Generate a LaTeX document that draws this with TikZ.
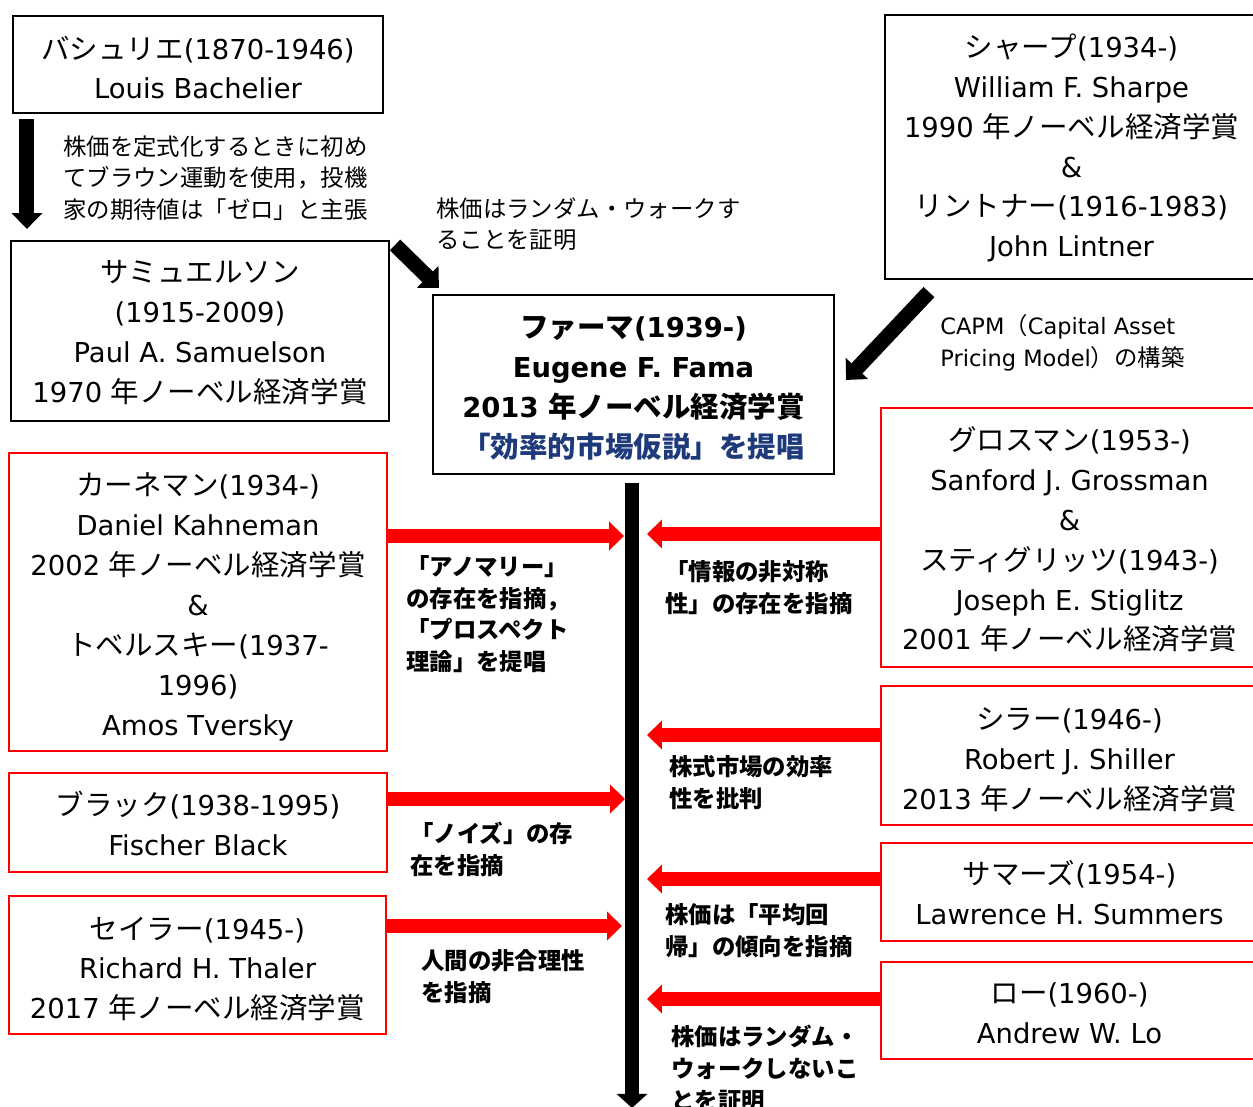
\documentclass[tikz,border=0pt]{standalone}
\usepackage{fontspec}
\setmainfont{DejaVu Sans}
\newfontfamily\jp{Noto Sans CJK JP}[Scale=1.04]
\usetikzlibrary{arrows.meta}
\definecolor{famablue}{HTML}{1F3A7A}
\newcommand\boxfont{\fontsize{15.6}{22.7}\selectfont}
\newcommand\labfont{\fontsize{12.8}{18.1}\selectfont}
\begin{document}
\begin{tikzpicture}[x=0.02cm,y=-0.02cm,
 bbox/.style={draw=black,line width=1.2pt,inner sep=0pt},
 rbox/.style={draw=red,line width=1pt,inner sep=0pt},
 btext/.style={inner sep=0pt,align=center,font=\boxfont},
 lab/.style={anchor=north west,inner sep=0pt,align=left,font=\labfont},
 blab/.style={anchor=north west,inner sep=0pt,align=left,font=\labfont\bfseries},
 blk/.style={line width=8.5pt,-{Triangle[width=17pt,length=9pt]}},
 redR/.style={red,line width=8.5pt,-{Triangle[width=16pt,length=8.5pt]}},
]
\useasboundingbox (0,0) rectangle (1253,1106);
\clip (0,0) rectangle (1253,1106);

% boxes
\node[bbox,minimum width=370*0.02cm,minimum height=97*0.02cm] (bach) at (198,64.5) {};
\node[btext] (bach-t) at ([shift={(0,3)}]bach.center)
 {{\jp バシュリエ}(1870-1946)\\Louis Bachelier};
\node[bbox,minimum width=378*0.02cm,minimum height=180*0.02cm] (sam) at (200,331) {};
\node[btext] (sam-t) at ([shift={(0,2)}]sam.center)
 {{\jp サミュエルソン}\\(1915-2009)\\Paul A. Samuelson\\1970 {\jp 年ノーベル経済学賞}};
\node[bbox,minimum width=401*0.02cm,minimum height=179*0.02cm] (fama) at (633.5,384.5) {};
\node[btext,font=\boxfont\bfseries] (fama-t) at ([shift={(0,4)}]fama.center)
 {{\jp ファーマ}(1939-)\\Eugene F. Fama\\2013 {\jp 年ノーベル経済学賞}\\{\color{famablue}\jp 「効率的市場仮説」を提唱}};
\node[bbox,minimum width=373*0.02cm,minimum height=264*0.02cm] (sharpe) at (1071.5,147) {};
\node[btext] (sharpe-t) at ([shift={(0,1)}]sharpe.center)
 {{\jp シャープ}(1934-)\\William F. Sharpe\\1990 {\jp 年ノーベル経済学賞}\\\&\\{\jp リントナー}(1916-1983)\\John Lintner};
\node[rbox,minimum width=378*0.02cm,minimum height=298*0.02cm] (kahn) at (198,602) {};
\node[btext] (kahn-t) at ([shift={(0,5)}]kahn.center)
 {{\jp カーネマン}(1934-)\\Daniel Kahneman\\2002 {\jp 年ノーベル経済学賞}\\\&\\{\jp トベルスキー}(1937-\\1996)\\Amos Tversky};
\node[rbox,minimum width=378*0.02cm,minimum height=99*0.02cm] (black) at (198,822.5) {};
\node[btext] (black-t) at ([shift={(0,1)}]black.center)
 {{\jp ブラック}(1938-1995)\\Fischer Black};
\node[rbox,minimum width=377*0.02cm,minimum height=138*0.02cm] (thaler) at (197.5,965) {};
\node[btext] (thaler-t) at ([shift={(0,4)}]thaler.center)
 {{\jp セイラー}(1945-)\\Richard H. Thaler\\2017 {\jp 年ノーベル経済学賞}};
\node[rbox,minimum width=377*0.02cm,minimum height=259*0.02cm] (gross) at (1069.5,537.5) {};
\node[btext] (gross-t) at ([shift={(0,2)}]gross.center)
 {{\jp グロスマン}(1953-)\\Sanford J. Grossman\\\&\\{\jp スティグリッツ}(1943-)\\Joseph E. Stiglitz\\2001 {\jp 年ノーベル経済学賞}};
\node[rbox,minimum width=377*0.02cm,minimum height=139*0.02cm] (shiller) at (1069.5,755.5) {};
\node[btext] (shiller-t) at ([shift={(0,4)}]shiller.center)
 {{\jp シラー}(1946-)\\Robert J. Shiller\\2013 {\jp 年ノーベル経済学賞}};
\node[rbox,minimum width=377*0.02cm,minimum height=98*0.02cm] (summers) at (1069.5,892) {};
\node[btext] (summers-t) at ([shift={(0,1)}]summers.center)
 {{\jp サマーズ}(1954-)\\Lawrence H. Summers};
\node[rbox,minimum width=377*0.02cm,minimum height=97*0.02cm] (lo) at (1069.5,1010.5) {};
\node[btext] (lo-t) at ([shift={(0,3)}]lo.center)
 {{\jp ロー}(1960-)\\Andrew W. Lo};

% labels
\node[lab] (lbach) at (63,135) {\jp 株価を定式化するときに初め\\\jp てブラウン運動を使用，投機\\\jp 家の期待値は「ゼロ」と主張};
\node[lab] (lsam) at (436,197) {\jp 株価はランダム・ウォークす\\\jp ることを証明};
\node[lab] (lcapm) at (940,314) {CAPM{\jp （}Capital Asset\\Pricing Model{\jp ）の構築}};
\node[blab] (lkahn) at (406,555) {\jp 「アノマリー」\\\jp の存在を指摘，\\\jp 「プロスペクト\\\jp 理論」を提唱};
\node[blab] (lgross) at (665,560) {\jp 「情報の非対称\\\jp 性」の存在を指摘};
\node[blab] (lshiller) at (669,755) {\jp 株式市場の効率\\\jp 性を批判};
\node[blab] (lblack) at (410,822) {\jp 「ノイズ」の存\\\jp 在を指摘};
\node[blab] (lsummers) at (665,903) {\jp 株価は「平均回\\\jp 帰」の傾向を指摘};
\node[blab] (lthaler) at (421,949) {\jp 人間の非合理性\\\jp を指摘};
\node[blab] (llo) at (671,1025) {\jp 株価はランダム・\\\jp ウォークしないこ\\\jp とを証明};

% black arrows
\draw[blk] ([shift={(15,5)}]bach.south west) -- ([shift={(17,-11)}]sam.north west);
\draw[blk] ([shift={(5,5)}]sam.north east) -- ([shift={(7,-6)}]fama.north west);
\draw[blk] ([shift={(45,12)}]sharpe.south west) -- ([shift={(11,86)}]fama.north east);
\coordinate (tlend) at (632,1108);
\draw[line width=8pt,-{Triangle[width=17pt,length=8pt]}] ([shift={(-1.5,8)}]fama.south) -- (tlend);

% red arrows
\coordinate (a1) at (624,536);
\coordinate (a2) at (625,799);
\coordinate (a3) at (622,926);
\coordinate (b1) at (647,534);
\coordinate (b2) at (647,735);
\coordinate (b3) at (647,879);
\coordinate (b4) at (647,999);
\draw[redR] (kahn.east |- a1) -- (a1);
\draw[redR] (black.east |- a2) -- (a2);
\draw[redR] (thaler.east |- a3) -- (a3);
\draw[redR] (gross.west |- b1) -- (b1);
\draw[redR] (shiller.west |- b2) -- (b2);
\draw[redR] (summers.west |- b3) -- (b3);
\draw[redR] (lo.west |- b4) -- (b4);
\end{tikzpicture}
\end{document}
